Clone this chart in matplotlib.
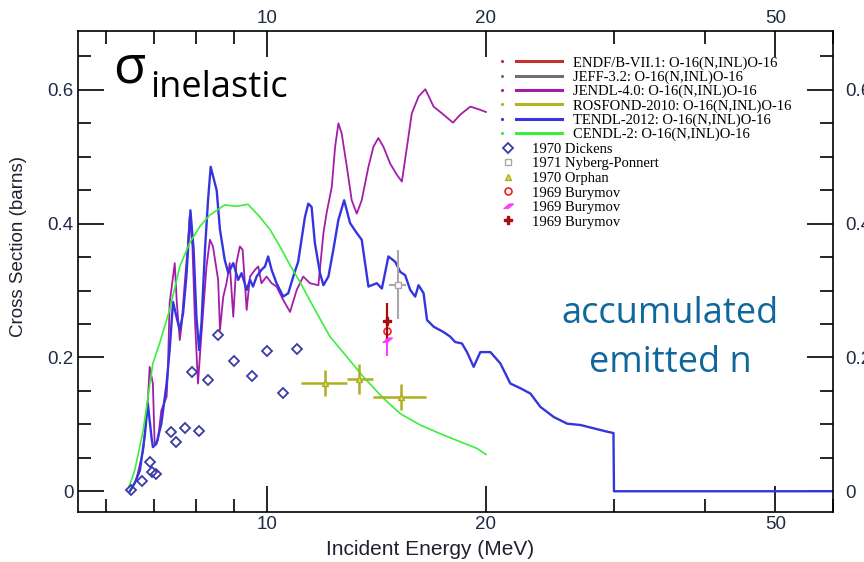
import numpy as np
import matplotlib
matplotlib.use('Agg')
import matplotlib.pyplot as plt
from matplotlib.lines import Line2D
from matplotlib.legend_handler import HandlerBase
from matplotlib.ticker import FixedLocator, NullFormatter, NullLocator, FuncFormatter

# evaluated data (MeV, barns)
e_tendl = [6.48, 6.58, 6.69, 6.79, 6.86, 6.94, 6.97, 7.05, 7.16, 7.28, 7.35, 7.43, 7.51, 7.59,
           7.67, 7.75, 7.85, 7.93, 8.00, 8.07, 8.13, 8.22, 8.30, 8.37, 8.53, 8.62, 8.75, 8.85,
           8.99, 9.13, 9.23, 9.38, 9.48, 9.57, 9.68, 9.83, 9.94, 10.04, 10.15, 10.31, 10.53,
           10.70, 10.87, 11.04, 11.28, 11.40, 11.52, 11.64, 11.83, 11.96, 12.15, 12.34, 12.54,
           12.77, 13.01, 13.29, 13.50, 13.79, 14.16, 14.39, 14.69, 15.01, 15.25, 15.49, 15.74,
           15.99, 16.16, 16.42, 16.60, 16.95, 17.49, 17.87, 18.15, 18.54, 18.84, 19.24, 19.65,
           20.29, 20.94, 21.61, 22.31, 23.03, 23.77, 24.79, 25.87, 26.99, 28.15, 29.37, 29.95,
           30.0, 60.0]
s_tendl = [0.000, 0.012, 0.031, 0.081, 0.131, 0.081, 0.066, 0.071, 0.101, 0.161, 0.211, 0.283,
           0.261, 0.241, 0.266, 0.321, 0.420, 0.361, 0.261, 0.211, 0.251, 0.361, 0.435, 0.485,
           0.450, 0.391, 0.346, 0.326, 0.341, 0.316, 0.326, 0.301, 0.316, 0.306, 0.321, 0.331,
           0.336, 0.351, 0.331, 0.311, 0.291, 0.296, 0.321, 0.343, 0.410, 0.430, 0.425, 0.371,
           0.326, 0.308, 0.321, 0.361, 0.406, 0.435, 0.401, 0.386, 0.376, 0.306, 0.311, 0.303,
           0.351, 0.343, 0.328, 0.323, 0.301, 0.291, 0.308, 0.296, 0.256, 0.246, 0.238, 0.231,
           0.223, 0.221, 0.208, 0.186, 0.208, 0.208, 0.191, 0.161, 0.154, 0.146, 0.126, 0.111,
           0.101, 0.099, 0.094, 0.089, 0.087, 0.0, 0.0]

e_jendl = [6.48, 6.61, 6.76, 6.86, 6.90, 6.97, 7.01, 7.08, 7.16, 7.28, 7.31, 7.35, 7.43, 7.47,
           7.52, 7.59, 7.63, 7.71, 7.79, 7.83, 7.90, 7.96, 8.04, 8.13, 8.26, 8.35, 8.43, 8.57,
           8.62, 8.71, 8.80, 8.89, 8.99, 9.08, 9.18, 9.26, 9.38, 9.48, 9.63, 9.73, 9.83, 9.99,
           10.15, 10.31, 10.53, 10.76, 10.99, 11.22, 11.46, 11.77, 11.96, 12.08, 12.28, 12.41,
           12.54, 12.67, 12.88, 13.08, 13.29, 13.50, 13.79, 14.01, 14.23, 14.46, 14.77, 15.09,
           15.33, 15.58, 15.82, 16.16, 16.51, 16.95, 17.49, 18.02, 18.44, 19.04, 19.55, 20.0]
s_jendl = [0.000, 0.016, 0.061, 0.136, 0.186, 0.161, 0.071, 0.076, 0.121, 0.141, 0.181, 0.281,
           0.321, 0.341, 0.281, 0.226, 0.246, 0.311, 0.371, 0.410, 0.366, 0.261, 0.161, 0.236,
           0.336, 0.376, 0.366, 0.316, 0.241, 0.291, 0.311, 0.341, 0.261, 0.341, 0.366, 0.361,
           0.271, 0.321, 0.331, 0.336, 0.311, 0.321, 0.311, 0.306, 0.286, 0.268, 0.301, 0.321,
           0.311, 0.308, 0.386, 0.416, 0.455, 0.515, 0.550, 0.535, 0.485, 0.435, 0.415, 0.435,
           0.485, 0.515, 0.528, 0.515, 0.490, 0.473, 0.463, 0.515, 0.565, 0.590, 0.601, 0.575,
           0.563, 0.551, 0.563, 0.575, 0.571, 0.567]

e_cendl = [6.46, 6.58, 6.76, 6.97, 7.12, 7.35, 7.59, 7.83, 8.09, 8.35, 8.75, 9.08, 9.42, 9.78,
           10.10, 10.42, 10.76, 11.10, 11.58, 12.21, 12.88, 13.57, 14.46, 15.25, 16.25, 17.31,
           18.44, 19.45, 20.0]
s_cendl = [0.006, 0.031, 0.091, 0.191, 0.221, 0.271, 0.336, 0.371, 0.396, 0.413, 0.428, 0.426,
           0.429, 0.410, 0.391, 0.366, 0.338, 0.313, 0.276, 0.231, 0.201, 0.171, 0.139, 0.116,
           0.099, 0.086, 0.074, 0.064, 0.055]

# experimental data
e_dickens = [6.50, 6.74, 6.90, 6.96, 7.05, 7.39, 7.51, 7.71, 8.07, 7.90, 8.30, 8.56, 9.01,
             9.54, 10.0, 10.51, 10.99]
s_dickens = [0.002, 0.015, 0.044, 0.029, 0.026, 0.089, 0.073, 0.095, 0.090, 0.178, 0.167,
             0.233, 0.195, 0.173, 0.210, 0.147, 0.212]

e_orphan = [12.02, 13.40, 15.28]
s_orphan = [0.162, 0.168, 0.141]
xlo_orphan = [0.89, 0.52, 1.27]
xhi_orphan = [0.86, 0.61, 1.26]
ds_orphan = [0.020, 0.022, 0.020]

e_nyberg = [15.12]
s_nyberg = [0.309]
de_nyberg = [0.40]
ds_nyberg = [0.052]

e_bury = [14.63]
s_bury_circ = [0.239]
s_bury_mag = [0.226]
ds_bury_mag = [0.024]
s_bury_plus = [0.254]
ds_bury_plus = [0.028]

eval_labels = ['ENDF/B-VII.1: O-16(N,INL)O-16', 'JEFF-3.2: O-16(N,INL)O-16',
               'JENDL-4.0: O-16(N,INL)O-16', 'ROSFOND-2010: O-16(N,INL)O-16',
               'TENDL-2012: O-16(N,INL)O-16', 'CENDL-2: O-16(N,INL)O-16']
exp_labels = ['1970 Dickens', '1971 Nyberg-Ponnert', '1970 Orphan', '1969 Burymov',
              '1969 Burymov', '1969 Burymov']

x_major = [10, 20, 50]
x_minor = [6, 7, 8, 9, 30, 40, 60]
y_major = [0, 0.2, 0.4, 0.6]
y_minor = [0.05, 0.1, 0.15, 0.25, 0.3, 0.35, 0.45, 0.5, 0.55, 0.65]

tick_col = '#1f2a44'


class DotLineHandler(HandlerBase):
    # small dot on the left, then a line segment
    def create_artists(self, legend, orig, xdescent, ydescent, width, height, fontsize, trans):
        y = (height - ydescent) / 2.
        c = orig.get_color()
        dot = Line2D([-xdescent + 0.08 * width], [y], marker='.', ms=2.5, ls='none',
                     color=c, transform=trans)
        seg = Line2D([-xdescent + 0.3 * width, -xdescent + width], [y, y], lw=2.2,
                     color=c, transform=trans)
        return [dot, seg]


fig = plt.figure(figsize=(8.64, 5.62), dpi=100)
ax = fig.add_axes([0.0903, 0.0890, 0.8738, 0.8558])

l_jendl, = ax.plot(e_jendl, s_jendl, color='#a31ea8', lw=1.3)
l_tendl, = ax.plot(e_tendl, s_tendl, color='#3535e0', lw=1.7)
l_cendl, = ax.plot(e_cendl, s_cendl, color='#3cee3c', lw=1.2)
l_endf = Line2D([], [], color='#c43030')
l_jeff = Line2D([], [], color='#707070')
l_ros = Line2D([], [], color='#b3b322')

m_dick, = ax.plot(e_dickens, s_dickens, ls='none', marker='D', ms=5, mfc='none',
                  mec='#3a3aa8', mew=1.3)
eb_orph = ax.errorbar(e_orphan, s_orphan, xerr=[xlo_orphan, xhi_orphan], yerr=ds_orphan,
                      fmt='^', ms=4, color='#b0ae1e', mfc='#d8d680', elinewidth=1.8, capsize=0)
eb_nyb = ax.errorbar(e_nyberg, s_nyberg, xerr=de_nyberg, yerr=ds_nyberg, fmt='s', ms=5,
                     color='#a8a8a8', mfc='white', elinewidth=1.5, capsize=0)
eb_mag = ax.errorbar(e_bury, s_bury_mag, yerr=ds_bury_mag, ls='none',
                     marker=[(-1, -0.5), (0.2, 0.5), (1, 0.5), (-0.2, -0.5)], ms=7,
                     color='#ff3cff', elinewidth=1.5, capsize=0)
m_circ, = ax.plot(e_bury, s_bury_circ, ls='none', marker='o', ms=5, mfc='none',
                  mec='#ee2020', mew=1.2)
eb_plus = ax.errorbar(e_bury, s_bury_plus, yerr=ds_bury_plus, fmt='P', ms=6,
                      color='#a80e0e', elinewidth=1.6, capsize=0)

ax.set_xscale('log')
ax.set_xlim(5.5, 60)
ax.set_ylim(-0.031, 0.688)
ax.xaxis.set_major_locator(FixedLocator(x_major))
ax.xaxis.set_minor_locator(FixedLocator(x_minor))
ax.xaxis.set_major_formatter(FuncFormatter(lambda v, p: '%d' % v))
ax.xaxis.set_minor_formatter(NullFormatter())
ax.yaxis.set_major_locator(FixedLocator(y_major))
ax.yaxis.set_minor_locator(FixedLocator(y_minor))
ax.yaxis.set_major_formatter(FuncFormatter(lambda v, p: '%g' % v))

ax.tick_params(which='both', direction='in', top=True, right=True, labeltop=True,
               width=1.2, labelcolor=tick_col, labelsize=13.5, pad=3)
ax.tick_params(which='major', length=19)
ax.tick_params(which='minor', length=9.5)
for t in ax.get_xticklabels() + ax.get_yticklabels():
    t.set_family('Liberation Sans')
for s in ax.spines.values():
    s.set_linewidth(1.2)

sec = ax.secondary_yaxis('right')
sec.yaxis.set_major_locator(FixedLocator(y_major))
sec.yaxis.set_minor_locator(NullLocator())
sec.yaxis.set_major_formatter(FuncFormatter(lambda v, p: '%g' % v))
sec.tick_params(length=0, pad=9, labelsize=13.5, labelcolor=tick_col)
sec.spines['right'].set_visible(False)
for t in sec.get_yticklabels():
    t.set_family('Liberation Sans')

ax.set_ylabel('Cross Section (barns)', fontsize=13.5, family='Liberation Sans', color='#202030')
ax.yaxis.set_label_coords(-0.068, 0.553)
ax.set_xlabel('Incident Energy (MeV)', fontsize=15, color='#202030',
              family=['Liberation Sans Narrow', 'Liberation Sans'])
ax.xaxis.set_label_coords(0.466, -0.058)

leg1 = ax.legend([l_endf, l_jeff, l_jendl, l_ros, l_tendl, l_cendl], eval_labels,
                 loc='upper left', bbox_to_anchor=(0.575, 0.900), bbox_transform=fig.transFigure,
                 frameon=False, prop={'family': 'Liberation Serif', 'size': 10.5},
                 handlelength=4.5, handletextpad=0.75, labelspacing=0.06, borderpad=0,
                 borderaxespad=0, handler_map={Line2D: DotLineHandler()})
ax.add_artist(leg1)
ax.legend([m_dick, eb_nyb[0], eb_orph[0], m_circ, eb_mag[0], eb_plus[0]], exp_labels,
          loc='upper left', bbox_to_anchor=(0.5787, 0.746), bbox_transform=fig.transFigure,
          frameon=False, prop={'family': 'Liberation Serif', 'size': 10.5},
          handlelength=1.1, handletextpad=1.1, labelspacing=0.09, borderpad=0,
          borderaxespad=0, numpoints=1)

fig.text(0.1308, 0.854, 'σ', fontsize=38, family=['Open Sans', 'DejaVu Sans'], va='baseline')
fig.text(0.1736, 0.827, 'inelastic', fontsize=26, family='Open Sans', va='baseline')
fig.text(0.7755, 0.4253, 'accumulated', fontsize=26, family='Open Sans', color='#10679b',
         ha='center', va='baseline')
fig.text(0.7755, 0.3381, 'emitted n', fontsize=26, family='Open Sans', color='#10679b',
         ha='center', va='baseline')

plt.savefig('out.png', dpi=100)
